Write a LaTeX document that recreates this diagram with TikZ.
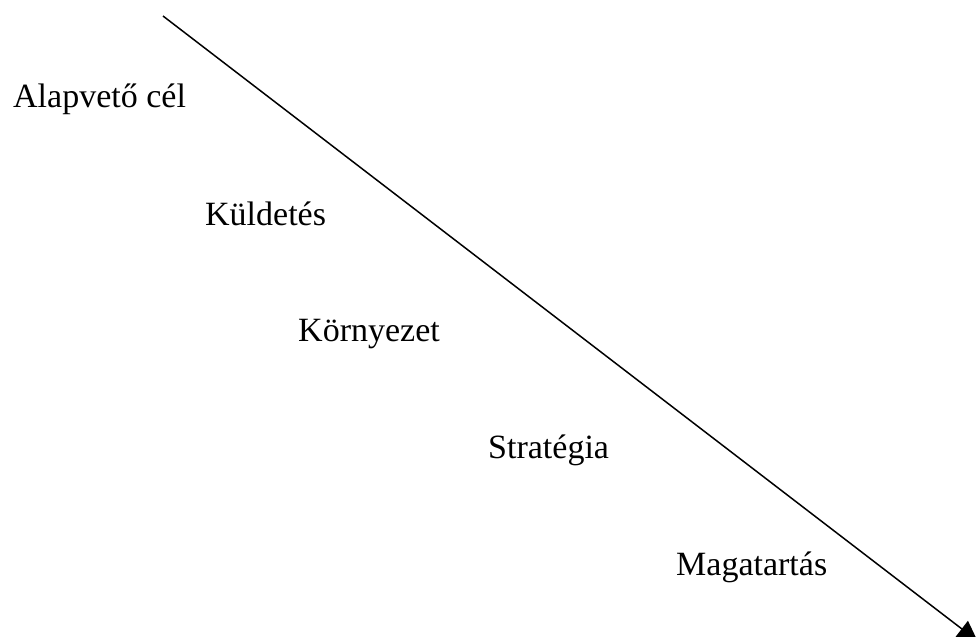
\documentclass[tikz,border=0pt]{standalone}
\usepackage{fontspec}
\setmainfont{Liberation Serif}
\usetikzlibrary{arrows.meta}

\tikzset{
  stage/.style={anchor=base west, inner sep=0pt, font=\fontsize{34}{40}\selectfont},
  flow/.style={line width=1.5pt, -{Triangle[length=20pt, width=20pt]}}
}

\begin{document}
\begin{tikzpicture}[x=1pt, y=-1pt]
  \useasboundingbox (0,0) rectangle (978,637);
  \clip (0,0) rectangle (978,637);

  % stages of the cascade, each one step further down and to the right
  \node[stage] (cel)   at (13,107)  {Alapvető cél};
  \node[stage] (kuld)  at (205,225) {Küldetés};
  \node[stage] (korny) at (298,341) {Környezet};
  \node[stage] (strat) at (488,458) {Stratégia};
  \node[stage] (mag)   at (676,575) {Magatartás};

  % the diagonal arrow running through the stages
  \coordinate (top) at (163,16);
  \coordinate (tip) at (977.6,641);
  \draw[flow] (top) -- (tip);
\end{tikzpicture}
\end{document}
